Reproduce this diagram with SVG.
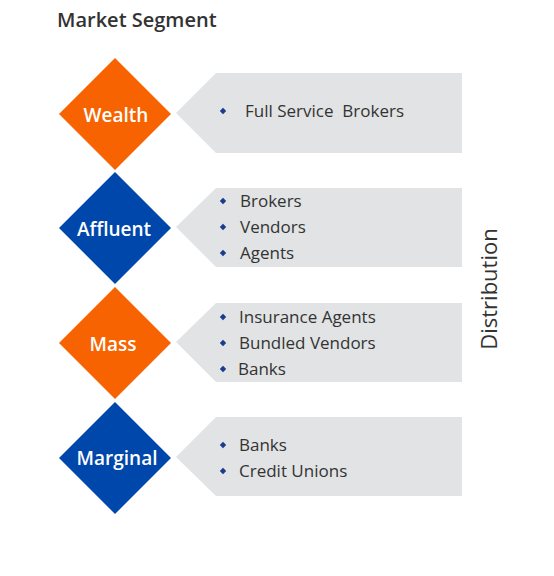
<svg xmlns="http://www.w3.org/2000/svg" width="554" height="576" viewBox="0 0 554 576">
<style>
.t{font-family:"Open Sans","Liberation Sans",sans-serif;}
.title{font-size:20px;font-weight:600;fill:#333333;}
.lbl{font-size:19px;font-weight:600;fill:#ffffff;text-anchor:middle;}
.item{font-size:17px;fill:#333333;}
.org{fill:#F76300;}
.blu{fill:#0047AB;}
.box{fill:#E1E3E4;}
.bul{fill:#1B3C8C;}
</style>
<defs>
<path id="d" d="M0,-3.2 L3.2,0 L0,3.2 L-3.2,0 Z"/>
</defs>
<rect width="554" height="576" fill="#ffffff"/>
<text class="t title" x="57" y="27">Market Segment</text>
<g id="connectors"></g>
<g id="wealth">
<polygon class="org" points="115,58 171,114 115,170 59,114"/>
<text class="t lbl" x="116" y="122">Wealth</text>
</g>
<g id="wealth-dist">
<polygon class="box" points="176,113 216,73 462,73 462,153 216,153"/>
<use href="#d" class="bul" x="223" y="111"/>
<text class="t item" x="245" y="117" xml:space="preserve">Full Service  Brokers</text>
</g>
<g id="affluent">
<polygon class="blu" points="115,172 171,228 115,284 59,228"/>
<text class="t lbl" x="114" y="236">Affluent</text>
</g>
<g id="affluent-dist">
<polygon class="box" points="176,227 216,188 462,188 462,267 216,267"/>
<use href="#d" class="bul" x="223" y="201"/>
<text class="t item" x="240" y="207">Brokers</text>
<use href="#d" class="bul" x="223" y="227"/>
<text class="t item" x="240" y="233">Vendors</text>
<use href="#d" class="bul" x="223" y="253"/>
<text class="t item" x="240" y="259">Agents</text>
</g>
<g id="mass">
<polygon class="org" points="115,287 171,343 115,399 59,343"/>
<text class="t lbl" x="113" y="351">Mass</text>
</g>
<g id="mass-dist">
<polygon class="box" points="176,342 216,303 462,303 462,382 216,382"/>
<use href="#d" class="bul" x="223" y="317"/>
<text class="t item" x="239" y="323">Insurance Agents</text>
<use href="#d" class="bul" x="223" y="343"/>
<text class="t item" x="239" y="349">Bundled Vendors</text>
<use href="#d" class="bul" x="223" y="369"/>
<text class="t item" x="238" y="375">Banks</text>
</g>
<g id="marginal">
<polygon class="blu" points="115,402 171,458 115,514 59,458"/>
<text class="t lbl" x="117" y="465">Marginal</text>
</g>
<g id="marginal-dist">
<polygon class="box" points="176,457 216,417 462,417 462,496 216,496"/>
<use href="#d" class="bul" x="223" y="445"/>
<text class="t item" x="239" y="451">Banks</text>
<use href="#d" class="bul" x="223" y="471"/>
<text class="t item" x="239" y="477">Credit Unions</text>
</g>
<text class="t" x="0" y="0" transform="translate(497,289) rotate(-90)" text-anchor="middle" font-size="22" fill="#333333">Distribution</text>
</svg>
